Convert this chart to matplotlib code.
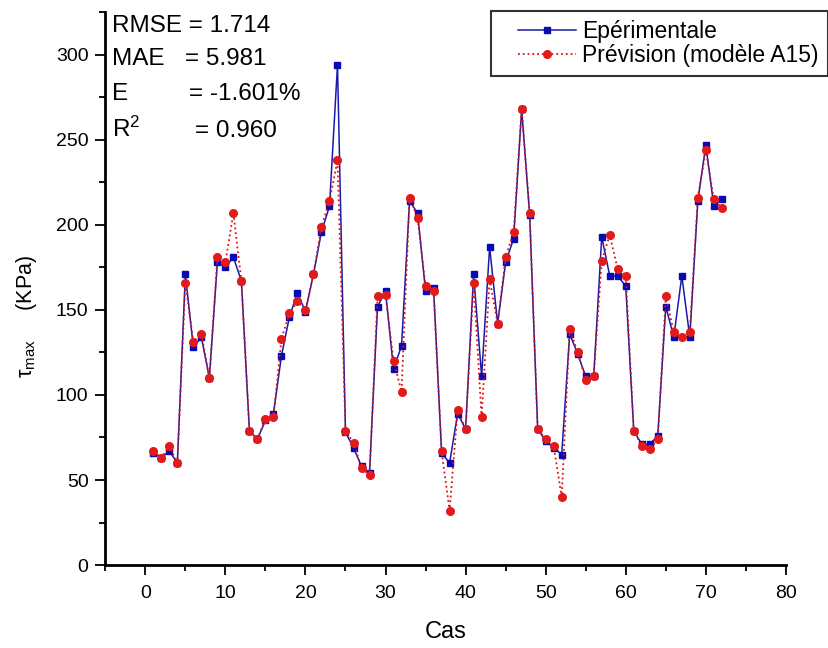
import numpy as np
import matplotlib
matplotlib.use('Agg')
import matplotlib.pyplot as plt
from matplotlib.ticker import MultipleLocator
from matplotlib.legend_handler import HandlerLine2D

plt.rcParams['font.family'] = ['Liberation Sans', 'DejaVu Sans']
plt.rcParams['mathtext.fontset'] = 'custom'
plt.rcParams['mathtext.rm'] = 'Liberation Sans'
plt.rcParams['mathtext.it'] = 'Liberation Sans:italic'

# donnees
cas = np.arange(1, 73)
experimentale = [66, 63, 67, 60, 171, 128, 134, 110, 178, 175,
                 181, 167, 79, 74, 85, 89, 123, 146, 160, 149,
                 171, 196, 211, 294, 78, 69, 58, 54, 152, 161,
                 115, 129, 214, 207, 161, 163, 66, 60, 89, 80,
                 171, 111, 187, 142, 178, 192, 268, 206, 80, 73,
                 69, 65, 136, 124, 111, 111, 193, 170, 170, 164,
                 79, 71, 71, 76, 152, 134, 170, 134, 214, 247,
                 211, 215]
prevision = [67, 63, 70, 60, 166, 131, 136, 110, 181, 178,
             207, 167, 79, 74, 86, 87, 133, 148, 155, 150,
             171, 199, 214, 238, 79, 72, 57, 53, 158, 159,
             120, 102, 216, 204, 164, 161, 67, 32, 91, 80,
             166, 87, 168, 142, 181, 196, 268, 207, 80, 74,
             70, 40, 139, 125, 109, 111, 179, 194, 174, 170,
             79, 70, 68, 74, 158, 137, 134, 137, 216, 244,
             215, 210]


# symbole de legende decale vers la droite (marge a gauche comme l'original)
class HandlerDecale(HandlerLine2D):
    def get_xdata(self, legend, xdescent, ydescent, width, height, fontsize):
        x0 = -xdescent + 0.24 * width
        x1 = -xdescent + width
        return [x0, x1], [0.5 * (x0 + x1)]


fig = plt.figure(figsize=(8.29, 6.48), dpi=100)
ax = fig.add_axes([0.127, 0.128, 0.821, 0.853])

l1, = ax.plot(cas, experimentale, '-s', color='#1a1aa8', lw=1.1, ms=5,
              mfc='#0a0ab4', mec='#0a0ab4', label='Epérimentale')
l2, = ax.plot(cas, prevision, ':o', color='#e01010', lw=1.3, ms=5.5,
              mfc='#e31a1a', mec='#e31a1a', label='Prévision (modèle A15)')

ax.set_xlim(-5, 80)
ax.set_ylim(0, 325)
ax.xaxis.set_major_locator(MultipleLocator(10))
ax.xaxis.set_minor_locator(MultipleLocator(5))
ax.yaxis.set_major_locator(MultipleLocator(50))
ax.yaxis.set_minor_locator(MultipleLocator(25))
ax.tick_params(which='major', length=7, width=1.3, labelsize=14, direction='out')
ax.tick_params(which='minor', length=4, width=1.3, direction='out')
ax.tick_params(axis='x', which='major', pad=7)
ax.tick_params(axis='y', which='major', pad=5)

ax.spines['top'].set_visible(False)
ax.spines['right'].set_visible(False)
ax.spines['left'].set_linewidth(2)
ax.spines['bottom'].set_linewidth(2)

ax.set_xlabel('Cas', fontsize=17, labelpad=14)
ax.set_ylabel('τ$_{\\rm max}$     (KPa)', fontsize=15.5)
ax.yaxis.set_label_coords(-0.098, 0.45)

hd = HandlerDecale()
leg = ax.legend(handler_map={l1: hd, l2: hd},
                loc='upper right', bbox_to_anchor=(1.062, 1.003), fontsize=16.5,
                frameon=True, fancybox=False, edgecolor='black',
                handlelength=3.3, borderpad=0.4, labelspacing=0.05,
                handletextpad=0.3, borderaxespad=0)
leg.get_frame().set_linewidth(1.5)

# indicateurs statistiques
fs = 17.5
t = ax.transAxes
ax.text(0.010, 0.964, 'RMSE = 1.714', transform=t, fontsize=fs, va='baseline')
ax.text(0.010, 0.905, 'MAE', transform=t, fontsize=fs, va='baseline')
ax.text(0.1175, 0.905, '= 5.981', transform=t, fontsize=fs, va='baseline')
ax.text(0.010, 0.841, 'E', transform=t, fontsize=fs, va='baseline')
ax.text(0.1233, 0.841, '= -1.601%', transform=t, fontsize=fs, va='baseline')
ax.text(0.010, 0.774, r'R$^{2}$', transform=t, fontsize=fs, va='baseline')
ax.text(0.132, 0.774, '= 0.960', transform=t, fontsize=fs, va='baseline')

fig.savefig('out.png', dpi=100)
